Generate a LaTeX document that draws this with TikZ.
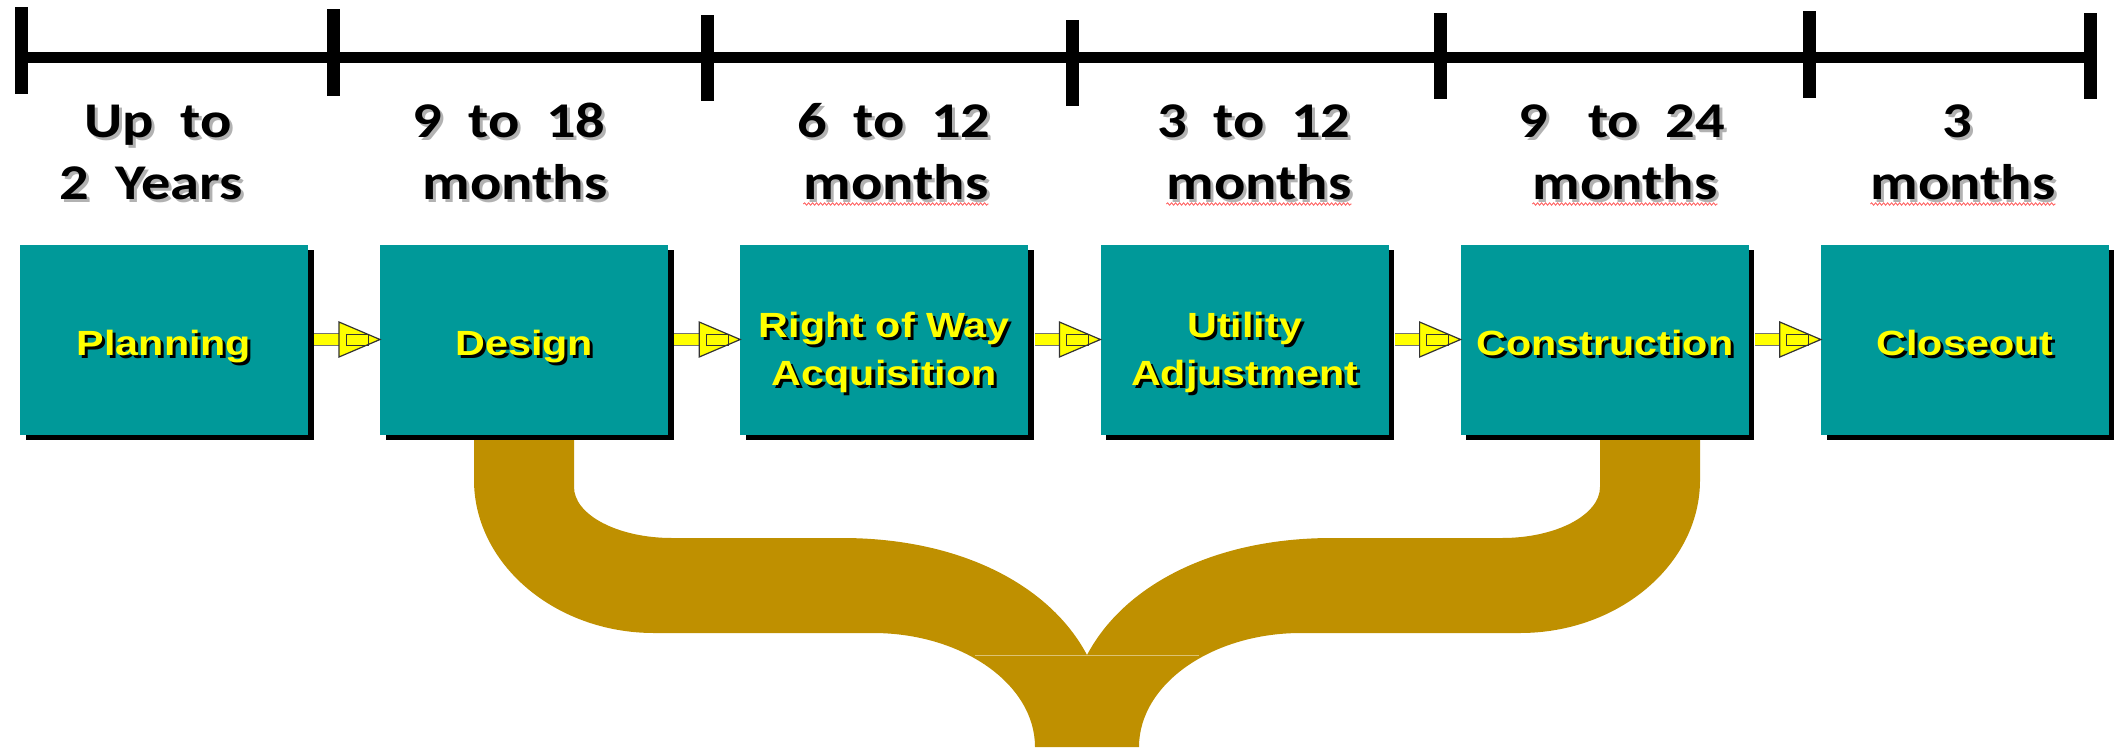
\documentclass[tikz,border=0pt]{standalone}
\usepackage{fontspec}
\newfontfamily\topfont{Carlito}[FakeStretch=1.17]
\newfontfamily\boxfont{Liberation Sans}[FakeStretch=1.18]
\usetikzlibrary{shadows,calc,decorations.pathmorphing}
\definecolor{boxteal}{RGB}{0,153,153}
\definecolor{braceGold}{RGB}{191,144,0}
\definecolor{arrowYellow}{RGB}{255,255,0}
\newcommand\boxtxt[1]{\makebox[0pt][l]{\hspace*{3pt}\raisebox{-3pt}{\color{black}#1}}#1}
\newcommand\toptxt[1]{\makebox[0pt][l]{\hspace*{3pt}\raisebox{-3pt}{\color{black!30}#1}}#1}
\begin{document}
\begin{tikzpicture}[x=1pt,y=-1pt,
  stage/.style={rectangle, fill=boxteal, minimum width=288pt, minimum height=190pt, inner sep=0pt,
    text=arrowYellow, font={\boxfont\bfseries\fontsize{35}{48}\selectfont}, align=center,
    drop shadow={shadow xshift=5.5pt, shadow yshift=-5pt, fill=black, opacity=1}},
  oneline/.style={text height=31pt, text depth=0pt},
  twoline/.style={text height=91pt, text depth=0pt},
  toplabel/.style={anchor=base, inner sep=0pt, font={\topfont\bfseries\fontsize{50}{62}\selectfont}},
  tlbar/.style={line width=11pt},
  tickmark/.style={line width=13pt},
  barline/.style={draw=black!55, line width=0.8pt, double=arrowYellow, double distance=10.5pt},
  headtri/.style={fill=arrowYellow, draw=black!80, line width=1.2pt, line join=miter},
  headbox/.style={draw=black!80, line width=1pt},
  squig/.style={draw=red!60, line width=0.9pt, decorate, decoration={snake, amplitude=1.2pt, segment length=4pt}},
  brace/.style={fill=braceGold},
  seam/.style={draw=braceGold!55!white, line width=1pt}
]
\useasboundingbox (0,0) rectangle (2114,747);

% gold brace joining Design and Construction
\path[brace] (474,436) -- (474,480)
  .. controls (474,564) and (555,633) .. (654,633) -- (873,633)
  .. controls (962,633) and (1035,684) .. (1035,747) -- (1139,747)
  .. controls (1139,684) and (1212,633) .. (1301,633) -- (1520,633)
  .. controls (1619,633) and (1700,564) .. (1700,480) -- (1700,436) -- (1600,436) -- (1600,487)
  .. controls (1600,515) and (1556,538) .. (1502,538) -- (1332,538)
  .. controls (1214,538) and (1124,585) .. (1087,655)
  .. controls (1050,585) and (960,538) .. (842,538) -- (672,538)
  .. controls (618,538) and (574,515) .. (574,487) -- (574,436) -- cycle;
\draw[seam] (975,655) -- (1199,655);

% timeline
\coordinate (k1) at (21,57);
\coordinate (k7) at (2090,57);
\draw[tlbar] (k1) -- (k7);
\draw[tickmark] (21,7) -- (21,94);
\draw[tickmark] (333,9) -- (333,96);
\draw[tickmark] (707,15) -- (707,101);
\draw[tickmark] (1072,20) -- (1072,106);
\draw[tickmark] (1440,13) -- (1440,99);
\draw[tickmark] (1809,11) -- (1809,98);
\draw[tickmark] (2090,13) -- (2090,99);

% durations
\node[toplabel] (u1) at (158,137) {\toptxt{Up~~to}};
\node[toplabel] (m1) at (151,199) {\toptxt{2~~Years}};
\node[toplabel] (u2) at (509,137) {\toptxt{9~~to~~18}};
\node[toplabel] (m2) at (515,199) {\toptxt{months}};
\node[toplabel] (u3) at (894,137) {\toptxt{6~~to~~12}};
\node[toplabel] (m3) at (896,199) {\toptxt{months}};
\node[toplabel] (u4) at (1254,137) {\toptxt{3~~to~~12}};
\node[toplabel] (m4) at (1259,199) {\toptxt{months}};
\node[toplabel] (u5) at (1622,137) {\toptxt{9~~~to~~24}};
\node[toplabel] (m5) at (1625,199) {\toptxt{months}};
\node[toplabel] (u6) at (1957,137) {\toptxt{3}};
\node[toplabel] (m6) at (1963,199) {\toptxt{months}};
\foreach \m in {m3,m4,m5,m6}
  \draw[squig] ($(\m.base west)+(0,5)$) -- ($(\m.base east)+(0,5)$);

% stages
\node[stage,oneline] (b1) at (164,339.5) {\boxtxt{Planning}};
\node[stage,oneline] (b2) at (524.2,339.5) {\boxtxt{Design}};
\node[stage,twoline] (b3) at (884.4,339.5) {\boxtxt{Right of Way}\\\boxtxt{Acquisition}};
\node[stage,twoline] (b4) at (1244.6,339.5) {\boxtxt{Utility}\\\boxtxt{Adjustment}};
\node[stage,oneline] (b5) at (1604.8,339.5) {\boxtxt{Construction}};
\node[stage,oneline] (b6) at (1965,339.5) {\boxtxt{Closeout}};

% connectors
\foreach \a/\b in {b1/b2,b2/b3,b3/b4,b4/b5,b5/b6}{
  \draw[barline] ([xshift=6pt]\a.east) -- ($(\b.west)+(-41,0)$);
  \filldraw[headtri] (\b.west) -- ($(\b.west)+(-41,-17.5)$) -- ($(\b.west)+(-41,17.5)$) -- cycle;
  \draw[headbox] ($(\b.west)+(-34,-5.5)$) rectangle ($(\b.west)+(-12,5.5)$);
}
\end{tikzpicture}
\end{document}
